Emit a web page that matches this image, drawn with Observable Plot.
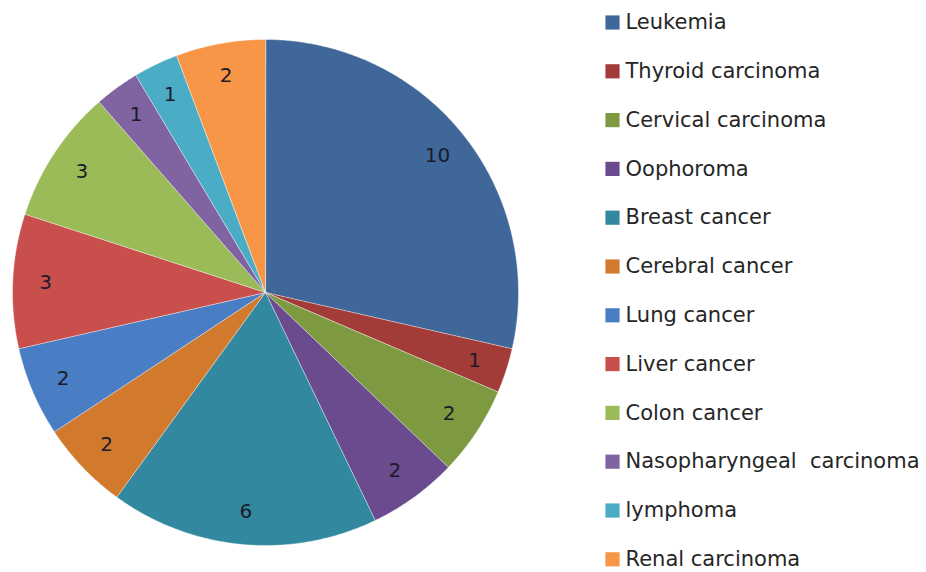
<!DOCTYPE html>
<html>
<head>
<meta charset="utf-8">
<script src="https://cdn.jsdelivr.net/npm/d3@7"></script>
<script src="https://cdn.jsdelivr.net/npm/@observablehq/plot@0.6"></script>
<style>
  html, body { margin: 0; padding: 0; background: #fff; }
  svg { display: block; }
</style>
</head>
<body>
<div id="chart"></div>
<script>
const categories = ["Leukemia", "Thyroid carcinoma", "Cervical carcinoma", "Oophoroma", "Breast cancer", "Cerebral cancer", "Lung cancer", "Liver cancer", "Colon cancer", "Nasopharyngeal  carcinoma", "lymphoma", "Renal carcinoma"];
const counts = [10, 1, 2, 2, 6, 2, 2, 3, 3, 1, 1, 2];
const colors = ["#3f679a", "#a33c39", "#7e9a40", "#6a4c8e", "#32899f", "#d17a2e", "#4a7ec4", "#c94f4c", "#9bbb59", "#8064a2", "#4bacc6", "#f79646"];

const W = 926, H = 572;
const cx = 265, cy = 292, R = 253, labelR = 220;
const total = d3.sum(counts);

let acc = 0;
const slices = categories.map((name, i) => {
  const a0 = acc / total * 2 * Math.PI;
  acc += counts[i];
  const a1 = acc / total * 2 * Math.PI;
  const ring = [[cx, cy]];
  const n = Math.max(4, Math.ceil((a1 - a0) / 0.01));
  for (let k = 0; k <= n; k++) {
    const a = a0 + (a1 - a0) * k / n;
    ring.push([cx + R * Math.sin(a), cy - R * Math.cos(a)]);
  }
  ring.push([cx, cy]);
  const am = (a0 + a1) / 2;
  return {
    name, value: counts[i], color: colors[i],
    geometry: {type: "Polygon", coordinates: [ring]},
    lx: cx + labelR * Math.sin(am), ly: cy - labelR * Math.cos(am)
  };
});

const legend = categories.map((name, i) => ({name, color: colors[i], x: 612, y: 22 + i * 48.8}));

const plot = Plot.plot({
  width: W, height: H,
  margin: 0,
  projection: {type: "identity"},
  style: {fontFamily: "'DejaVu Sans', sans-serif", background: "#fff"},
  marks: [
    Plot.geo(slices, {geometry: d => d.geometry, fill: d => d.color, stroke: "#ffffff", strokeWidth: 0.6, strokeOpacity: 0.7}),
    Plot.text(slices, {x: "lx", y: "ly", text: d => String(d.value), fontSize: 20, fill: "#1b1b2a"}),
    Plot.dot(legend, {x: "x", y: "y", symbol: "square", r: 8, fill: d => d.color, stroke: "none"}),
    Plot.text(legend, {x: d => d.x + 13, y: "y", text: "name", textAnchor: "start", fontSize: 21, fill: "#262626"})
  ]
});
document.getElementById("chart").append(plot);
</script>
</body>
</html>
